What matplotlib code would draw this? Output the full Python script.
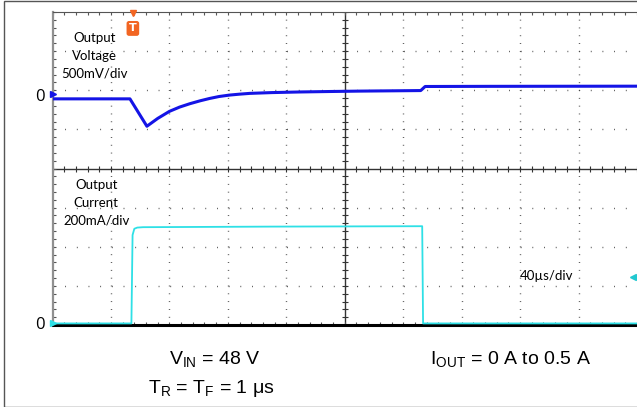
import matplotlib
matplotlib.use("Agg")
import matplotlib.pyplot as plt
import numpy as np
from matplotlib.patches import Rectangle

plt.rcParams['mathtext.fontset'] = 'custom'
plt.rcParams['mathtext.rm'] = 'Liberation Sans'
plt.rcParams['mathtext.it'] = 'Liberation Sans'

# Scope settings
T_DIV = 40.0      # us per division
V_DIV = 500.0     # mV per division
I_DIV = 200.0     # mA per division
V_ZERO = 5.78     # voltage channel zero, in divisions from bottom
I_ZERO = 0.0      # current channel zero

# Output voltage trace (time in us, mV relative to its zero marker)
t_volt = [0, 53, 64.6, 72, 80, 87, 94, 101, 107.5, 114, 121, 128, 135, 150, 169, 190, 210, 252, 255, 300, 350, 400]
v_volt = [0, 0, -350, -250, -160, -105, -62, -25, 5, 30, 48, 60, 70, 80, 88, 94, 99, 106, 158, 160, 161, 162]

# Output current trace (time in us, mA)
t_curr = [0, 54, 54.8, 56, 58, 62, 150, 253, 253.6, 300, 400]
i_curr = [8, 8, 460, 492, 498, 500, 503, 505, 8, 8, 8]

fig = plt.figure(figsize=(6.37, 4.07), dpi=100)
W, H = 637.0, 407.0
x0, x1, y_top, y_bot = 52.5, 637.0, 12.0, 325.0
ax = fig.add_axes([x0 / W, 1 - y_bot / H, (x1 - x0) / W, (y_bot - y_top) / H])
ax.set_xlim(0, 10 * T_DIV)
ax.set_ylim(0, 8)

# dotted graticule, dots every 1/5 division
for k in range(1, 10):
    if k == 5:
        continue
    ax.axvline(k * T_DIV, color='#444444', lw=1.0, linestyle=(0, (0.6, 5.03)), zorder=1)
for k in range(1, 8):
    if k == 4:
        continue
    ax.axhline(k, color='#444444', lw=1.0, linestyle=(0, (0.6, 7.81)), zorder=1)

# solid centre lines with small ticks
ax.axvline(5 * T_DIV, color='#333333', lw=1.0, zorder=1)
ax.axhline(4, color='#333333', lw=1.0, zorder=1)
minor_t = np.arange(0, 10 * T_DIV + 1, T_DIV / 5)
minor_d = np.arange(0, 8.01, 0.2)
ax.plot(minor_t, np.full(len(minor_t), 4.0), linestyle='none', marker='|', ms=4, mew=0.8, color='#333333', zorder=1)
ax.plot(np.full(len(minor_d), 5 * T_DIV), minor_d, linestyle='none', marker='_', ms=4, mew=0.8, color='#333333', zorder=1)

ax.set_xticks(minor_t, minor=True)
ax.set_yticks(minor_d, minor=True)
ax.set_xticks([])
ax.set_yticks([])
ax.tick_params(which='minor', direction='in', length=2, width=0.8, color='#555555',
               top=True, bottom=True, left=True, right=False,
               labelbottom=False, labelleft=False)

ax.spines['right'].set_visible(False)
ax.spines['left'].set_color('#909090')
ax.spines['left'].set_linewidth(1.6)
ax.spines['top'].set_color('#555555')
ax.spines['top'].set_linewidth(0.8)
ax.spines['bottom'].set_color('black')
ax.spines['bottom'].set_linewidth(2.2)

# traces
v_div = V_ZERO + np.array(v_volt) / V_DIV
i_div = I_ZERO + np.array(i_curr) / I_DIV
ax.plot(t_volt, v_div, color='#1414e6', lw=2.2, zorder=4)
ax.plot(t_curr, i_div, color='#2ee0e6', lw=1.3, zorder=4)

# channel markers
ax.plot([0], [V_ZERO + 0.12], marker='>', ms=4, color='#1414e6', clip_on=False, zorder=5)
ax.plot([0], [I_ZERO + 0.05], marker='>', ms=4, color='#2ee0e6', clip_on=False, zorder=5)
ax.plot([397], [1.23], marker='<', ms=5, color='#22c8d0', clip_on=False, zorder=5)
ax.text(-8.6, V_ZERO + 0.05, '0', fontsize=12, family='Open Sans', ha='center', va='center')
ax.text(-8.6, I_ZERO, '0', fontsize=12, family='Open Sans', ha='center', va='center')

# trigger marker
ax.plot([55], [7.98], marker='v', ms=4.5, color='#f26522', clip_on=False, zorder=6)
ax.text(55, 7.58, 'T', fontsize=8, fontweight='bold', color='white', ha='center', va='center',
        bbox=dict(boxstyle='round,pad=0.22', fc='#f26522', ec='none'), zorder=6)

# labels
lab = dict(fontsize=9.5, family='Lato', ha='center', va='center', linespacing=1.6)
ax.text(29, 6.88, 'Output\nVoltage\n500mV/div', **lab)
ax.text(30, 3.12, 'Output\nCurrent\n200mA/div', **lab)
ax.text(338, 1.25, '40\u00b5s/div', **lab)

# conditions below the screen
cond = dict(fontsize=14, family='Liberation Sans', ha='center', va='baseline')
fig.text(215 / W, 1 - 364 / H, r'V$_{\mathrm{IN}}$ = 48 V', **cond)
fig.text(211 / W, 1 - 393 / H, r'T$_{\mathrm{R}}$ = T$_{\mathrm{F}}$ = 1 $\mathrm{\mu}$s', **cond)
fig.text(510 / W, 1 - 364 / H, r'I$_{\mathrm{OUT}}$ = 0 A to 0.5 A', **cond)

fig.patches.append(Rectangle((4 / W, 0.5 / H), 1, 1 - 1 / H, transform=fig.transFigure,
                             fill=False, ec='#555555', lw=1.0))

fig.savefig('out.png', dpi=100)
